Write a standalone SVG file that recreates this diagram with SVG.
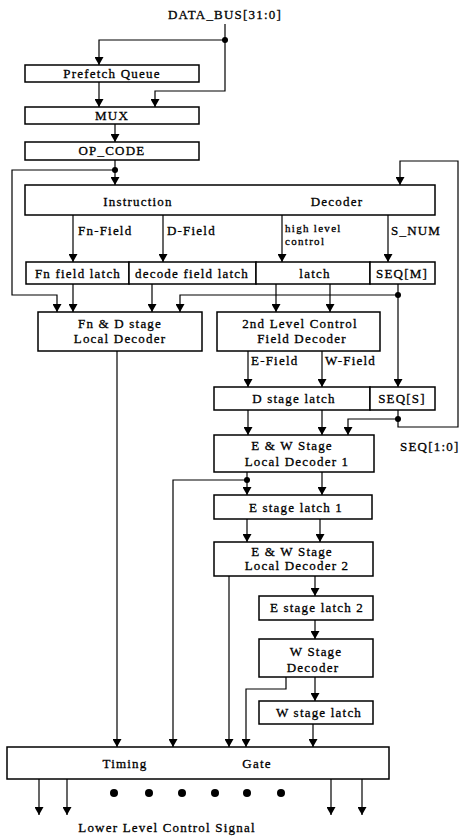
<svg xmlns="http://www.w3.org/2000/svg" width="459" height="836" viewBox="0 0 459 836">
<defs>
<marker id="ah" viewBox="0 0 8 9" refX="8" refY="4.5" markerWidth="8" markerHeight="9" markerUnits="userSpaceOnUse" orient="auto">
<path d="M0,0 L8,4.5 L0,9 z" fill="#000"/>
</marker>
</defs>
<style>
rect{fill:#fff;stroke:#000;stroke-width:1.5}
text{font-family:"Liberation Serif","Times New Roman",serif;font-size:13px;letter-spacing:1.2px;fill:#000;stroke:#000;stroke-width:0.3}
.c{text-anchor:middle}
.s{font-size:11px;letter-spacing:1.3px}
.ln{fill:none;stroke:#000;stroke-width:1.2}
.ar{fill:none;stroke:#000;stroke-width:1.2;marker-end:url(#ah)}
.dot{fill:#000}
</style>
<rect x="0" y="0" width="459" height="836" style="fill:#fff;stroke:none"/>
<g id="connectors">
<path class="ln" d="M225,24 V40"/>
<path class="ar" d="M225,40 H99 V65"/>
<path class="ar" d="M225,40 V91 H155 V107"/>
<path class="ar" d="M99,82 V107"/>
<path class="ar" d="M115,124 V142"/>
<path class="ar" d="M115,160 V185"/>
<path class="ar" d="M115,170 H12 V295 H57 V312"/>
<path class="ar" d="M398,410 V427 H458 V161 H400 V185"/>
<path class="ar" d="M73,215 V262"/>
<path class="ar" d="M163,215 V262"/>
<path class="ar" d="M282,215 V262"/>
<path class="ar" d="M388,215 V262"/>
<path class="ar" d="M73,284 V312"/>
<path class="ar" d="M152,284 V312"/>
<path class="ar" d="M398,284 V387"/>
<path class="ar" d="M398,295 H180 V312"/>
<path class="ar" d="M276,284 V312"/>
<path class="ar" d="M330,284 V312"/>
<path class="ar" d="M117,351 V747"/>
<path class="ar" d="M248,351 V387"/>
<path class="ar" d="M322,351 V387"/>
<path class="ar" d="M248,410 V435"/>
<path class="ar" d="M322,410 V435"/>
<path class="ar" d="M398,419 H348 V435"/>
<path class="ar" d="M247,472 V495"/>
<path class="ar" d="M247,480 H173 V747"/>
<path class="ar" d="M322,472 V495"/>
<path class="ar" d="M247,519 V542"/>
<path class="ar" d="M320,519 V542"/>
<path class="ar" d="M229,576 V747"/>
<path class="ar" d="M315,576 V596"/>
<path class="ar" d="M315,620 V639"/>
<path class="ar" d="M286,677 V689 H246 V747"/>
<path class="ar" d="M315,677 V701"/>
<path class="ar" d="M313,724 V747"/>
<path class="ar" d="M39,779 V815"/>
<path class="ar" d="M67,779 V815"/>
<path class="ar" d="M331,779 V815"/>
<path class="ar" d="M362,779 V815"/>
<circle class="dot" cx="225" cy="40" r="3"/>
<circle class="dot" cx="115" cy="170" r="3"/>
<circle class="dot" cx="398" cy="295" r="3"/>
<circle class="dot" cx="398" cy="419" r="3"/>
<circle class="dot" cx="247" cy="480" r="3"/>
</g>
<g id="databus"><text class="c" x="225" y="19">DATA_BUS[31:0]</text></g>
<g id="prefetch"><rect x="25" y="65" width="174" height="17"/><text class="c" x="112" y="78">Prefetch Queue</text></g>
<g id="mux"><rect x="25" y="107" width="174" height="17"/><text class="c" x="112" y="120">MUX</text></g>
<g id="opcode"><rect x="25" y="142" width="174" height="18"/><text class="c" x="112" y="155">OP_CODE</text></g>
<g id="decoder"><rect x="25" y="185" width="410" height="30"/><text class="c" x="138" y="206">Instruction</text><text class="c" x="337" y="206">Decoder</text></g>
<g id="labels1">
<text x="78" y="235">Fn-Field</text>
<text x="167" y="235">D-Field</text>
<text class="s" x="285" y="232">high level</text>
<text class="s" x="285" y="245">control</text>
<text x="391" y="235">S_NUM</text>
</g>
<g id="fnlatch"><rect x="26" y="262" width="103" height="22"/><text class="c" x="78" y="278">Fn field latch</text></g>
<g id="declatch"><rect x="129" y="262" width="127" height="22"/><text class="c" x="192" y="278">decode field latch</text></g>
<g id="latch"><rect x="256" y="262" width="114" height="22"/><text class="c" x="315" y="278">latch</text></g>
<g id="seqm"><rect x="370" y="262" width="65" height="22"/><text class="c" x="402" y="278">SEQ[M]</text></g>
<g id="fnd"><rect x="38" y="312" width="164" height="39"/><text class="c" x="120" y="328">Fn &amp; D stage</text><text class="c" x="120" y="343">Local Decoder</text></g>
<g id="second"><rect x="217" y="312" width="163" height="39"/><text class="c" x="300" y="328">2nd Level Control</text><text class="c" x="302" y="343">Field Decoder</text></g>
<g id="labels2"><text x="251" y="365">E-Field</text><text x="325" y="365">W-Field</text></g>
<g id="dlatch"><rect x="214" y="387" width="156" height="23"/><text class="c" x="294" y="403">D stage latch</text></g>
<g id="seqs"><rect x="370" y="387" width="65" height="23"/><text class="c" x="402" y="403">SEQ[S]</text></g>
<g id="seq10"><text x="400" y="451">SEQ[1:0]</text></g>
<g id="ew1"><rect x="214" y="435" width="160" height="37"/><text class="c" x="292" y="450">E &amp; W Stage</text><text class="c" x="297" y="466">Local Decoder 1</text></g>
<g id="elatch1"><rect x="214" y="495" width="158" height="24"/><text class="c" x="296" y="512">E stage latch 1</text></g>
<g id="ew2"><rect x="214" y="542" width="159" height="34"/><text class="c" x="292" y="556">E &amp; W Stage</text><text class="c" x="297" y="570">Local Decoder 2</text></g>
<g id="elatch2"><rect x="259" y="596" width="114" height="24"/><text class="c" x="317" y="612">E stage latch 2</text></g>
<g id="wdec"><rect x="259" y="639" width="114" height="38"/><text class="c" x="316" y="656">W Stage</text><text class="c" x="313" y="672">Decoder</text></g>
<g id="wlatch"><rect x="259" y="701" width="114" height="23"/><text class="c" x="319" y="717">W stage latch</text></g>
<g id="timing"><rect x="7" y="747" width="382" height="32"/><text class="c" x="125" y="768">Timing</text><text class="c" x="257" y="768">Gate</text></g>
<g id="dots">
<circle class="dot" cx="114" cy="793" r="4"/>
<circle class="dot" cx="149" cy="793" r="4"/>
<circle class="dot" cx="182" cy="793" r="4"/>
<circle class="dot" cx="215" cy="793" r="4"/>
<circle class="dot" cx="247" cy="793" r="4"/>
<circle class="dot" cx="281" cy="793" r="4"/>
</g>
<g id="output"><text class="c" x="167" y="832">Lower Level Control Signal</text></g>
</svg>
